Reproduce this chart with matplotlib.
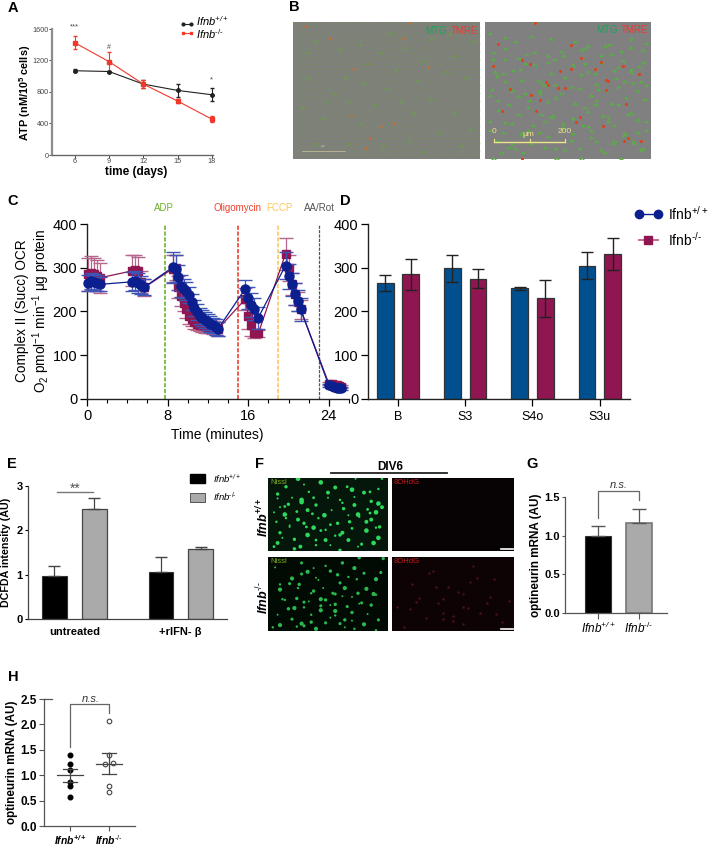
import matplotlib
matplotlib.use("Agg")
import matplotlib.pyplot as plt
import numpy as np

plt.rcParams['font.family'] = ['Liberation Sans', 'DejaVu Sans']
plt.rcParams['mathtext.fontset'] = 'custom'
plt.rcParams['mathtext.rm'] = 'Liberation Sans'
plt.rcParams['mathtext.it'] = 'Liberation Sans:italic'
plt.rcParams['mathtext.bf'] = 'Liberation Sans:bold'
plt.rcParams['mathtext.default'] = 'regular'

W, H = 708, 846

WT_LABEL = r'Ifnb$^{+/+}$'
KO_LABEL = r'Ifnb$^{\text{-/-}}$'

# panel A
days = [6, 9, 12, 15, 18]
atp_wt = [1070, 1060, 900, 820, 765]
atp_wt_err = [20, 10, 55, 85, 85]
atp_ko = [1425, 1185, 900, 685, 455]
atp_ko_err = [85, 125, 50, 25, 40]

# panel C, six injection blocks
t_ocr = [0.1, 0.4, 0.7, 1.0, 1.3, 4.5, 4.8, 5.1, 5.4, 5.7,
         8.5, 8.8, 9.0, 9.3, 9.6, 9.8, 10.1, 10.4, 10.6, 10.9, 11.2, 11.4, 11.7, 12.0, 12.2, 12.5, 12.8, 13.0,
         15.7, 16.0, 16.3, 16.6, 17.0,
         19.7, 20.0, 20.3, 20.6, 20.9, 21.2,
         24.0, 24.3, 24.5, 24.8, 25.0, 25.2]
ocr_wt = [265, 270, 268, 265, 262, 268, 270, 265, 260, 256,
          301, 298, 278, 258, 252, 247, 238, 222, 208, 198, 190, 185, 180, 176, 172, 168, 164, 160,
          252, 230, 215, 205, 186,
          305, 280, 262, 240, 225, 205,
          31, 29, 28, 26, 25, 24]
ocr_wt_err = [18, 18, 18, 18, 16, 22, 22, 22, 20, 18,
              35, 30, 28, 25, 22, 20, 18, 18, 18, 18, 18, 18, 18, 18, 18, 18, 18, 17,
              20, 25, 28, 25, 25,
              30, 28, 26, 25, 25, 26,
              3, 3, 3, 3, 3, 3]
ocr_ko = [285, 288, 286, 282, 277, 293, 295, 292, 268, 255,
          298, 300, 255, 235, 220, 205, 190, 182, 176, 172, 170, 168, 166, 165, 165, 164, 162, 160,
          228, 190, 170, 150, 150,
          332, 300, 262, 240, 222, 205,
          35, 34, 33, 32, 30, 28]
ocr_ko_err = [38, 38, 36, 36, 34, 35, 35, 32, 25, 20,
              30, 28, 25, 22, 20, 20, 18, 16, 16, 15, 15, 15, 15, 15, 15, 15, 15, 15,
              25, 30, 25, 10, 8,
              37, 30, 25, 25, 22, 22,
              4, 4, 4, 4, 4, 4]
event_times = [7.7, 15, 19, 23]
event_names = ['ADP', 'Oligomycin', 'FCCP', 'AA/Rot']
event_colors = ['#6fb02c', '#f0402f', '#fcc85e', '#555555']

# panel D
phases = ['B', 'S3', 'S4o', 'S3u']
resp_wt = [265, 299, 253, 305]
resp_wt_err = [18, 31, 4, 31]
resp_ko = [285, 275, 230, 332]
resp_ko_err = [35, 22, 42, 37]

# panel E
dcf_groups = ['untreated', '+rIFN- β']
dcf_wt = [0.98, 1.05]
dcf_wt_err = [0.21, 0.34]
dcf_ko = [2.47, 1.58]
dcf_ko_err = [0.27, 0.04]

# panel G
opt_means = [0.99, 1.16]
opt_errs = [0.13, 0.19]

# panel H
opt_wt_pts = [1.39, 1.23, 1.10, 0.87, 0.78, 0.58]
opt_ko_pts = [2.06, 1.39, 1.23, 1.25, 0.79, 0.66]
opt_ko_x = [1, 1, 0.89, 1.11, 1, 1]
opt_h_means = [1.0, 1.23]
opt_h_lo = [0.87, 1.03]
opt_h_hi = [1.12, 1.44]

# micrograph specks, positions in 0-100 panel units
b1_red = [(20, 12), (62, 1), (7, 3), (59, 12), (32, 34), (31, 68), (47, 76), (39, 92), (41, 85), (54, 74), (72, 33)]
b1_green = [(12, 14), (25, 20), (36, 16), (47, 22), (60, 18), (74, 12), (86, 24), (92, 40), (70, 28), (55, 34), (38, 44),
            (22, 52), (8, 40), (5, 62), (16, 70), (30, 58), (44, 60), (58, 58), (74, 56), (86, 66), (95, 78), (78, 80),
            (62, 86), (48, 90), (30, 88), (12, 88), (8, 22), (50, 48), (66, 42), (82, 36), (40, 30), (28, 40), (96, 14),
            (90, 90), (70, 94), (36, 74), (18, 58), (64, 66), (84, 8), (52, 8)]
b2_green = [(3, 8), (12, 11), (18, 14), (28, 10), (40, 12), (54, 14), (58, 20), (62, 17), (75, 16), (88, 12), (95, 20),
            (5, 22), (12, 27), (20, 26), (30, 22), (38, 29), (47, 24), (60, 30), (70, 24), (76, 23), (83, 28), (93, 32),
            (6, 36), (11, 37), (21, 34), (32, 42), (36, 46), (48, 40), (58, 38), (66, 37), (78, 35), (84, 43), (88, 36),
            (4, 49), (15, 48), (24, 52), (33, 50), (46, 52), (57, 48), (67, 45), (73, 50), (80, 47), (92, 50), (97, 46),
            (8, 64), (14, 60), (26, 62), (38, 58), (41, 68), (53, 70), (60, 62), (66, 60), (71, 68), (80, 60), (88, 66),
            (3, 72), (16, 74), (22, 80), (36, 72), (47, 74), (62, 76), (74, 72), (78, 75), (84, 82), (92, 80), (97, 72),
            (6, 86), (18, 92), (28, 88), (42, 92), (52, 86), (64, 84), (77, 88), (86, 84), (90, 88), (95, 92), (70, 93),
            (11, 80), (33, 80), (57, 92)]
b2_red = [(5, 32), (8, 16), (22, 28), (27, 31), (37, 44), (38, 46), (44, 48), (45, 36), (52, 34), (52, 17), (30, 1),
          (58, 26), (66, 34), (70, 29), (73, 42), (74, 43), (73, 50), (83, 32), (93, 38), (15, 49), (28, 53), (33, 57),
          (31, 65), (48, 48), (57, 69), (71, 76), (86, 85), (94, 87), (84, 87), (85, 60), (55, 73), (10, 65), (22, 100)]
f_spots_top = [(30, 9), (15, 12), (44, 6), (66, 12), (80, 20), (92, 15), (8, 28), (17, 36), (28, 30), (38, 27), (50, 20), (60, 30),
               (72, 26), (86, 32), (14, 50), (24, 46), (33, 44), (42, 55), (53, 44), (63, 42), (75, 50), (85, 48), (95, 40),
               (7, 60), (18, 65), (30, 62), (38, 68), (52, 64), (82, 60), (90, 68), (12, 82), (22, 84), (33, 78), (44, 72),
               (48, 85), (78, 90), (75, 94), (60, 78), (92, 82), (5, 94), (27, 94), (40, 92), (10, 40), (68, 60)]
f_spots_bot = [(6, 14), (28, 8), (33, 20), (48, 12), (62, 8), (72, 16), (80, 22), (90, 30), (74, 30), (58, 24), (40, 28),
               (18, 36), (10, 44), (25, 42), (38, 46), (46, 42), (56, 50), (64, 42), (14, 58), (24, 56), (34, 60), (44, 66),
               (44, 72), (30, 68), (17, 70), (8, 78), (20, 84), (28, 90), (24, 94), (36, 88), (52, 82), (60, 90), (10, 92),
               (4, 95), (56, 64), (70, 54), (78, 62), (88, 50), (36, 78), (48, 58), (70, 86)]
f_red_bot = [(30, 22), (46, 40), (38, 62), (58, 50), (72, 76), (90, 88), (50, 80), (64, 34), (22, 55), (80, 54),
             (96, 60), (42, 84), (15, 70), (84, 30), (66, 12), (58, 68)]


def pos(x0, y0, x1, y1):
    return [x0 / W, 1 - y1 / H, (x1 - x0) / W, (y1 - y0) / H]


def ftext(x, y, s, **kw):
    kw.setdefault('ha', 'center')
    kw.setdefault('va', 'center')
    return fig.text(x / W, 1 - y / H, s, **kw)


def fline(xs, ys, **kw):
    fig.add_artist(plt.Line2D([x / W for x in xs], [1 - y / H for y in ys], **kw))


def clean(ax, color='#333333', lw=1.0):
    ax.spines['top'].set_visible(False)
    ax.spines['right'].set_visible(False)
    ax.spines['left'].set_color(color)
    ax.spines['bottom'].set_color(color)
    ax.spines['left'].set_linewidth(lw)
    ax.spines['bottom'].set_linewidth(lw)
    ax.patch.set_alpha(0)


def image_panel(box, bg):
    ax = fig.add_axes(pos(*box))
    ax.set_xlim(0, 100)
    ax.set_ylim(100, 0)
    ax.set_xticks([])
    ax.set_yticks([])
    ax.set_facecolor(bg)
    for s in ax.spines.values():
        s.set_visible(False)
    return ax


def spots(ax, pts, **kw):
    ax.scatter([p[0] for p in pts], [p[1] for p in pts], linewidths=0, **kw)


def mirrored(pts):
    # the micrographs are denser than what was read by hand, reuse the list flipped
    return [(100 - x, (y + 7) % 100) for x, y in pts]


def clustered(pts):
    # a cell in the image is a small clump of dots, not one round dot
    out = []
    for i, (x, y) in enumerate(pts):
        sign = 1 if i % 2 else -1
        out += [(x, y), (x + 0.8 * sign, y + 0.7), (x - 0.6 * sign, y + 0.9)]
    return out


def sized(pts, sizes):
    return [sizes[i % len(sizes)] for i in range(len(pts))]


fig = plt.figure(figsize=(W / 100, H / 100), dpi=100)

for lab, x, y in [('A', 13, 8), ('B', 294, 7), ('C', 13, 201), ('D', 345, 201), ('E', 12, 464),
                  ('F', 260, 464), ('G', 532, 464), ('H', 13, 677)]:
    ftext(x, y, lab, fontsize=10.5, fontweight='bold')

######################################################################
# A
ax = fig.add_axes(pos(52, 29, 213, 155))
clean(ax)
ax.spines['left'].set_color('#8c8c8c')
ax.spines['left'].set_linewidth(1.6)
ax.spines['bottom'].set_color('#666666')
ax.errorbar(days, atp_wt, yerr=atp_wt_err, color='#222222', lw=0.8, marker='o', ms=2.5, capsize=1.5, elinewidth=0.8, clip_on=False)
ax.errorbar(days, atp_ko, yerr=atp_ko_err, color='#f0392b', lw=0.8, marker='s', ms=2.5, capsize=1.5, elinewidth=0.8, clip_on=False)
ax.set_xlim(4, 18.1)
ax.set_ylim(0, 1600)
ax.set_xticks(days)
ax.set_yticks([0, 400, 800, 1200, 1600])
ax.tick_params(labelsize=5.2, length=2, width=0.7, pad=0.5, colors='#444444')
ftext(136, 172, 'time (days)', fontsize=8.5, fontweight='bold')
ftext(25.5, 93, r'ATP (nM/10$^{5}$ cells)', fontsize=7.8, fontweight='bold', rotation=90)
ax.text(6, 1580, '***', fontsize=5.5, ha='center', va='bottom', color='#444444')
ax.text(9, 1370, '#', fontsize=5, ha='center', va='center', color='#444444')
ax.text(18, 960, '*', fontsize=5.5, ha='center', va='center', color='#444444')
fline([183, 191], [24, 24], color='#222222', lw=0.8, marker='o', ms=2)
fline([183, 191], [33, 33], color='#f0392b', lw=0.8, marker='s', ms=2)
ftext(196, 21, WT_LABEL, fontsize=8, style='italic', ha='left')
ftext(196, 34, KO_LABEL, fontsize=8, style='italic', ha='left')

######################################################################
# B
ax = image_panel((293, 22, 480, 159), '#7f807b')
lx, ly = np.meshgrid(np.arange(1, 100, 2.5), np.arange(1, 100, 3.0))
lx[1::2] += 1.2
ax.scatter(lx.ravel(), ly.ravel(), s=2.5, color='#6f9a4f', alpha=0.35, linewidths=0)
spots(ax, clustered(b1_green), s=3, color='#6f9a4f', alpha=0.7)
spots(ax, b1_red, s=3, color='#dd6a1c')
ax.text(82, 6.3, 'MTG', fontsize=7, color='#1aa35a', ha='right', va='center')
ax.text(99, 6.3, 'TMRE', fontsize=7, color='#e0403a', ha='right', va='center')
ax.plot([5, 28], [94.5, 94.5], color='#c9c59a', lw=0.5)
ax.text(16, 92, 'μm', fontsize=2.5, color='#c9c59a', ha='center', va='bottom')

ax = image_panel((485, 22, 651, 159), '#808080')
spots(ax, clustered(b2_green + mirrored(b2_green)), s=2, color='#58b043')
spots(ax, b2_red, s=5, color='#d9441a')
ax.text(80, 5.5, 'MTG', fontsize=7, color='#1aa35a', ha='right', va='center')
ax.text(98, 5.5, 'TMRE', fontsize=7, color='#e0403a', ha='right', va='center')
ax.plot([5.5, 48], [87.5, 87.5], color='#f0e48a', lw=1)
for xt in [5.5, 27, 48]:
    ax.plot([xt, xt], [85.5, 87.5], color='#f0e48a', lw=0.8)
ax.text(5.5, 80, '0', fontsize=6, color='#f0e48a', ha='center', va='center')
ax.text(26, 82, 'μm', fontsize=6, color='#f0e48a', ha='center', va='center')
ax.text(48, 80, '200', fontsize=6, color='#f0e48a', ha='center', va='center')

######################################################################
# C
BLUE = '#0b1f8f'
MAROON = '#8f1650'
ax = fig.add_axes(pos(87, 224, 349, 399))
clean(ax, '#222222', 1.0)
for t, c in zip(event_times, event_colors):
    ax.axvline(t, color=c, lw=1.2 if c != '#555555' else 0.9, ls=(0, (2.5, 1)), zorder=1)
ax.errorbar(t_ocr, ocr_ko, yerr=ocr_ko_err, color=MAROON, ecolor='#b4668c', lw=0.9, marker='s', ms=6,
            capsize=5, elinewidth=0.9, clip_on=False, zorder=3)
ax.errorbar(t_ocr, ocr_wt, yerr=ocr_wt_err, color=BLUE, ecolor='#3f55b5', lw=0.9, marker='o', ms=6.5,
            capsize=5, elinewidth=0.9, clip_on=False, zorder=4)
ax.set_xlim(0, 26)
ax.set_ylim(0, 400)
ax.set_xticks([0, 8, 16, 24])
ax.set_xticks(np.arange(0, 27, 2), minor=True)
ax.set_yticks([0, 100, 200, 300, 400])
ax.tick_params(labelsize=10.5, length=5, width=0.9, pad=2)
ax.tick_params(which='minor', length=3, width=0.8)
ftext(217, 435, 'Time (minutes)', fontsize=10)
ftext(22, 311, 'Complex II (Succ) OCR', fontsize=9.8, rotation=90)
ftext(41, 311, r'O$_{2}$ pmol$^{-1}$ min$^{-1}$ μg protein', fontsize=9.8, rotation=90)
ftext(164, 208, event_names[0], fontsize=7, color=event_colors[0])
ftext(238, 208, event_names[1], fontsize=7, color=event_colors[1])
ftext(279, 208, event_names[2], fontsize=7, color=event_colors[2])
ftext(319, 208, event_names[3], fontsize=7, color=event_colors[3])

######################################################################
# D
ax = fig.add_axes(pos(368, 224, 630, 399))
clean(ax, '#222222', 1.0)
xs = np.arange(len(phases))
ax.bar(xs - 0.19, resp_wt, 0.25, yerr=resp_wt_err, color='#00508f', edgecolor='#333333', lw=0.9, capsize=4.5,
       error_kw=dict(lw=1, capthick=1, ecolor='#222222'))
ax.bar(xs + 0.19, resp_ko, 0.25, yerr=resp_ko_err, color='#8f1650', edgecolor='#333333', lw=0.9, capsize=4.5,
       error_kw=dict(lw=1, capthick=1, ecolor='#222222'))
ax.set_xlim(-0.446, 3.45)
ax.set_ylim(0, 400)
ax.set_xticks(xs)
ax.set_xticklabels(phases)
ax.set_yticks([0, 100, 200, 300, 400])
ax.tick_params(axis='y', labelsize=10.5, length=5, width=0.9, pad=2)
ax.tick_params(axis='x', labelsize=9, length=5, width=0.9, pad=4)
fline([639, 658], [214, 214], color=BLUE, lw=1, marker='o', ms=6)
fline([639, 658], [240, 240], color='#c46f99', lw=1.4)
fline([648], [240], color=MAROON, marker='s', ms=6)
ftext(668, 214, WT_LABEL, fontsize=10, ha='left')
ftext(668, 240, KO_LABEL, fontsize=10, ha='left')

######################################################################
# E
ax = fig.add_axes(pos(28, 486, 227, 619))
clean(ax, '#444444', 0.9)
ax.bar([1, 3.66], dcf_wt, 0.62, color='black', edgecolor='#333333', lw=0.8)
ax.bar([2, 4.65], dcf_ko, 0.62, color='#aaaaaa', edgecolor='#444444', lw=0.9)
ax.errorbar([1, 3.66], dcf_wt, yerr=[[0, 0], dcf_wt_err], fmt='none', ecolor='#444444', lw=0.9, capsize=4.5)
ax.errorbar([2, 4.65], dcf_ko, yerr=[[0, 0], dcf_ko_err], fmt='none', ecolor='#444444', lw=0.9, capsize=4.5)
ax.set_xlim(0.34, 5.31)
ax.set_ylim(0, 3)
ax.set_xticks([1.5, 4.15])
ax.set_xticklabels(dcf_groups, fontweight='bold')
ax.set_yticks([0, 1, 2, 3])
ax.tick_params(axis='x', length=0, labelsize=8, pad=6)
ax.tick_params(axis='y', labelsize=8, length=2.5, width=0.8, pad=1.5)
for t in ax.get_yticklabels():
    t.set_fontweight('bold')
ax.plot([1.06, 1.96], [2.86, 2.86], color='#777777', lw=1, clip_on=False)
ax.text(1.51, 2.93, '**', fontsize=10, ha='center', va='center', color='#555555')
ftext(6, 552, 'DCFDA intensity (AU)', fontsize=7.7, fontweight='bold', rotation=90)
fig.patches.append(plt.Rectangle((190 / W, 1 - 483 / H), 15 / W, 9 / H, transform=fig.transFigure, color='black'))
fig.patches.append(plt.Rectangle((190 / W, 1 - 502 / H), 15 / W, 9 / H, transform=fig.transFigure,
                                 facecolor='#aaaaaa', edgecolor='#555555', lw=0.7))
ftext(213, 479, WT_LABEL, fontsize=6.8, style='italic', ha='left')
ftext(213, 497, KO_LABEL, fontsize=6.8, style='italic', ha='left')

######################################################################
# F
ftext(390, 467, 'DIV6', fontsize=8.5, fontweight='bold')
fline([331, 447], [473, 473], color='#222222', lw=1.3)
ftext(263, 518, WT_LABEL, fontsize=9, fontweight='bold', style='italic', rotation=90)
ftext(263, 598, KO_LABEL, fontsize=9, fontweight='bold', style='italic', rotation=90)

ax = image_panel((268, 478, 388, 551), '#04170a')
pts = f_spots_top + mirrored(f_spots_top)
spots(ax, pts, s=sized(pts, [2, 6, 11, 4, 8, 3]), color='#2fd85a')
ax.text(2, 6, 'Nissl', fontsize=5.5, color='#7fae1e', va='center')
ax = image_panel((392, 478, 514, 551), '#070203')
ax.text(1, 6, '8OHdG', fontsize=5.5, color='#c81e1e', va='center')
ax.plot([89, 99], [97, 97], color='white', lw=1.2)
ax = image_panel((268, 557, 388, 631), '#020a04')
pts = f_spots_bot + mirrored(f_spots_bot)
spots(ax, pts, s=sized(pts, [2, 5, 9, 3, 6]), color='#2bb84f')
ax.text(2, 6, 'Nissl', fontsize=5.5, color='#7fae1e', va='center')
ax = image_panel((392, 557, 514, 631), '#0e0304')
spots(ax, f_red_bot + mirrored(f_red_bot), s=3, color='#4a1212')
ax.text(1, 6, '8OHdG', fontsize=5.5, color='#c81e1e', va='center')
ax.plot([89, 99], [97, 97], color='white', lw=1.2)

######################################################################
# G
ax = fig.add_axes(pos(565, 497, 667, 613))
clean(ax, '#555555', 0.9)
ax.bar([0], opt_means[0], 0.63, color='black', edgecolor='#333333', lw=0.8)
ax.bar([1], opt_means[1], 0.63, color='#aaaaaa', edgecolor='#777777', lw=1.2)
ax.errorbar([0, 1], opt_means, yerr=[[0, 0], opt_errs], fmt='none', ecolor='#555555', lw=0.9, capsize=5)
ax.set_xlim(-0.8, 1.68)
ax.set_ylim(0, 1.5)
ax.set_xticks([0, 1])
ax.set_xticklabels([WT_LABEL, KO_LABEL], style='italic', fontsize=8.5)
ax.set_yticks([0, 0.5, 1.0, 1.5])
ax.set_yticklabels(['0.0', '0.5', '1.0', '1.5'], fontweight='bold', fontsize=8)
ax.tick_params(axis='y', length=2.5, width=0.8, pad=1.2, color='#555555')
ax.tick_params(axis='x', length=4, width=0.8, pad=1.5, color='#555555')
ax.plot([0, 0, 1, 1], [1.23, 1.58, 1.58, 1.46], color='#666666', lw=0.9, clip_on=False)
ax.text(0.5, 1.66, 'n.s.', fontsize=8, style='italic', ha='center', va='center', color='#333333')
ftext(536, 555, 'optineurin mRNA (AU)', fontsize=8.4, fontweight='bold', rotation=90)

######################################################################
# H
ax = fig.add_axes(pos(44, 699, 135, 826))
clean(ax, '#555555', 0.9)
ax.scatter([0] * len(opt_wt_pts), opt_wt_pts, s=11, color='black', zorder=3)
ax.scatter(opt_ko_x, opt_ko_pts, s=11, color='white', edgecolor='#444444', lw=0.8, zorder=3)
for i in range(2):
    ax.plot([i - 0.33, i + 0.33], [opt_h_means[i]] * 2, color='#444444', lw=0.9, zorder=4)
    ax.plot([i, i], [opt_h_lo[i], opt_h_hi[i]], color='#444444', lw=0.9, zorder=4)
    ax.plot([i - 0.17, i + 0.17], [opt_h_lo[i]] * 2, color='#444444', lw=0.9, zorder=4)
    ax.plot([i - 0.17, i + 0.17], [opt_h_hi[i]] * 2, color='#444444', lw=0.9, zorder=4)
ax.plot([-0.667, -0.47], [2.5, 2.5], color='#555555', lw=0.9, clip_on=False)
ax.set_xlim(-0.667, 1.667)
ax.set_ylim(0, 2.5)
ax.set_xticks([0, 1])
ax.set_xticklabels([WT_LABEL, KO_LABEL], style='italic', fontweight='bold', fontsize=7.5)
ax.set_yticks([0, 0.5, 1.0, 1.5, 2.0, 2.5])
ax.set_yticklabels(['0.0', '0.5', '1.0', '1.5', '2.0', '2.5'], fontweight='bold', fontsize=8.5)
ax.tick_params(axis='both', length=3.5, width=0.8, pad=1.5, color='#555555')
ax.plot([0, 0, 1, 1], [1.55, 2.40, 2.40, 2.22], color='#666666', lw=0.9)
ax.text(0.53, 2.5, 'n.s.', fontsize=8, style='italic', ha='center', va='center', color='#333333')
ftext(12, 762, 'optineurin mRNA (AU)', fontsize=8.4, fontweight='bold', rotation=90)

plt.savefig('out.png', dpi=100)
